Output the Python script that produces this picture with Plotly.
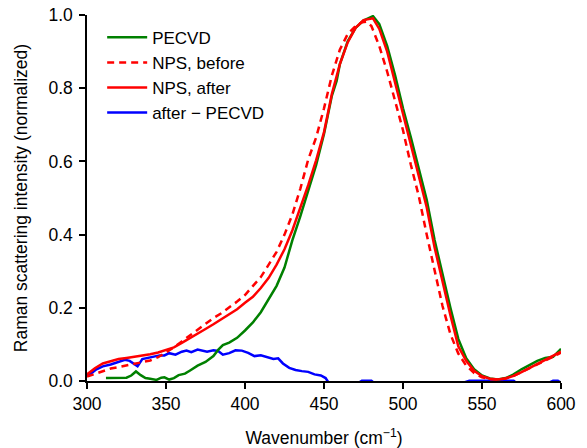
import plotly.graph_objects as go

# ---- data ----
pecvd_x = [312, 315, 320, 325, 328, 331, 334, 337, 340, 344, 347, 349, 352, 355, 358, 362, 365, 370, 375, 380,
           383, 386, 390, 395, 400, 405, 410, 415, 420, 425, 430, 435, 440, 445, 450, 455, 458, 460, 465, 470,
           475, 478, 481, 485, 490, 495, 500, 505, 510, 515, 520, 525, 530, 535, 540, 545, 550, 555, 560, 565,
           570, 575, 580, 585, 590, 595, 600]
pecvd_y = [0.008, 0.008, 0.008, 0.009, 0.015, 0.026, 0.016, 0.008, 0.006, 0.003, 0.009, 0.010, 0.004, 0.008,
           0.016, 0.020, 0.028, 0.042, 0.052, 0.068, 0.085, 0.098, 0.105, 0.118, 0.138, 0.160, 0.188, 0.224,
           0.260, 0.310, 0.385, 0.450, 0.520, 0.590, 0.675, 0.780, 0.820, 0.865, 0.928, 0.965, 0.985, 0.990,
           0.997, 0.975, 0.915, 0.835, 0.745, 0.665, 0.580, 0.495, 0.385, 0.290, 0.200, 0.115, 0.062, 0.032,
           0.015, 0.007, 0.004, 0.008, 0.018, 0.032, 0.043, 0.055, 0.063, 0.066, 0.088]

before_x = [300, 305, 310, 315, 320, 325, 330, 335, 340, 345, 350, 355, 360, 365, 370, 375, 380, 385, 390, 395,
            400, 405, 410, 415, 420, 425, 430, 435, 440, 445, 450, 455, 460, 465, 470, 474, 477, 480, 485, 490,
            495, 500, 505, 510, 515, 520, 525, 530, 535, 540, 545, 550, 555, 560, 565, 570, 575, 580, 585, 590,
            595, 600]
before_y = [0.012, 0.020, 0.028, 0.034, 0.038, 0.042, 0.046, 0.050, 0.056, 0.065, 0.078, 0.092, 0.108, 0.124,
            0.142, 0.158, 0.172, 0.185, 0.200, 0.217, 0.235, 0.258, 0.284, 0.318, 0.353, 0.400, 0.455, 0.525,
            0.605, 0.665, 0.745, 0.835, 0.905, 0.948, 0.970, 0.980, 0.982, 0.970, 0.915, 0.845, 0.765, 0.685,
            0.590, 0.505, 0.400, 0.300, 0.205, 0.128, 0.075, 0.042, 0.022, 0.010, 0.005, 0.004, 0.007, 0.014,
            0.024, 0.034, 0.045, 0.056, 0.066, 0.078]

after_x = [300, 305, 310, 315, 320, 325, 330, 335, 340, 345, 350, 355, 360, 365, 370, 375, 380, 385, 390, 395,
           400, 405, 410, 415, 420, 425, 430, 435, 440, 445, 450, 455, 460, 465, 470, 475, 478, 481, 485, 490,
           495, 500, 505, 510, 515, 520, 525, 530, 535, 540, 545, 550, 555, 560, 565, 570, 575, 580, 585, 590,
           595, 600]
after_y = [0.018, 0.035, 0.048, 0.055, 0.060, 0.063, 0.066, 0.069, 0.073, 0.078, 0.084, 0.092, 0.104, 0.116,
           0.130, 0.142, 0.155, 0.168, 0.182, 0.196, 0.214, 0.230, 0.254, 0.282, 0.318, 0.360, 0.412, 0.472,
           0.535, 0.603, 0.680, 0.785, 0.865, 0.925, 0.965, 0.986, 0.988, 0.991, 0.962, 0.900, 0.815, 0.730,
           0.650, 0.565, 0.475, 0.365, 0.270, 0.180, 0.095, 0.055, 0.028, 0.013, 0.006, 0.004, 0.007, 0.014,
           0.024, 0.035, 0.045, 0.056, 0.068, 0.080]

diff_x = [300, 303, 306, 310, 315, 320, 324, 327, 330, 332, 335, 338, 342, 346, 349, 352, 356, 360, 363, 366,
          370, 373, 376, 380, 383, 386, 390, 394, 398, 402, 406, 410, 414, 418, 421, 424, 428, 432, 436, 440,
          444, 448, 451, 453, 460, 470, 474, 480, 483, 500, 520, 538, 542, 570, 573, 590, 595, 598, 600]
diff_y = [0.015, 0.022, 0.032, 0.040, 0.045, 0.052, 0.058, 0.055, 0.045, 0.040, 0.060, 0.063, 0.066, 0.070,
          0.070, 0.076, 0.072, 0.080, 0.083, 0.079, 0.086, 0.082, 0.080, 0.084, 0.082, 0.072, 0.076, 0.084,
          0.083, 0.077, 0.068, 0.070, 0.064, 0.060, 0.062, 0.048, 0.036, 0.030, 0.027, 0.025, 0.018, 0.015,
          0.008, -0.005, -0.015, -0.010, 0.001, 0.001, -0.010, -0.020, -0.015, -0.005, 0.001, 0.001, -0.010,
          -0.010, 0.001, 0.001, -0.005]

x_ticks = [300, 350, 400, 450, 500, 550, 600]
y_ticks = [0.0, 0.2, 0.4, 0.6, 0.8, 1.0]

FONT = "Liberation Sans, Arial, Helvetica, sans-serif"
LW = 2.5

fig = go.Figure()
fig.add_trace(go.Scatter(x=diff_x, y=diff_y, mode="lines", name="after \u2212 PECVD",
                         line=dict(color="#0000ff", width=LW), legendrank=4))
fig.add_trace(go.Scatter(x=pecvd_x, y=pecvd_y, mode="lines", name="PECVD",
                         line=dict(color="#008000", width=LW), legendrank=1))
fig.add_trace(go.Scatter(x=before_x, y=before_y, mode="lines", name="NPS, before",
                         line=dict(color="#ff0000", width=LW, dash="7px,5px"), legendrank=2))
fig.add_trace(go.Scatter(x=after_x, y=after_y, mode="lines", name="NPS, after",
                         line=dict(color="#ff0000", width=LW), legendrank=3))

axis_common = dict(showline=True, linecolor="black", linewidth=1.5, ticks="outside", ticklen=6,
                   tickwidth=1.5, tickcolor="black", showgrid=False, zeroline=False, automargin=False,
                   ticklabeloverflow="allow",
                   tickfont=dict(family=FONT, size=17.5, color="black"))

fig.update_layout(
    width=587, height=448,
    margin=dict(l=79, r=34, t=7, b=75, autoexpand=False),
    paper_bgcolor="white", plot_bgcolor="white",
    font=dict(family=FONT, size=17.5, color="black"),
    xaxis=dict(range=[300, 600], tickvals=x_ticks, ticktext=[str(v) for v in x_ticks],
               title=dict(text="Wavenumber (cm<sup>\u22121</sup>)", font=dict(family=FONT, size=17.5),
                          standoff=19),
               **axis_common),
    yaxis=dict(range=[0, 1.0], tickvals=y_ticks, ticktext=["%.1f" % v for v in y_ticks],
               ticklabelstandoff=3,
               title=dict(text="Raman scattering intensity (normalized)", font=dict(family=FONT, size=17.5),
                          standoff=16),
               **axis_common),
    legend=dict(x=0.032, y=0.987, xanchor="left", yanchor="top", bgcolor="rgba(0,0,0,0)",
                font=dict(family=FONT, size=17, color="black"), itemwidth=40,
                tracegroupgap=0),
    showlegend=True,
)

fig.write_html("out.html")
